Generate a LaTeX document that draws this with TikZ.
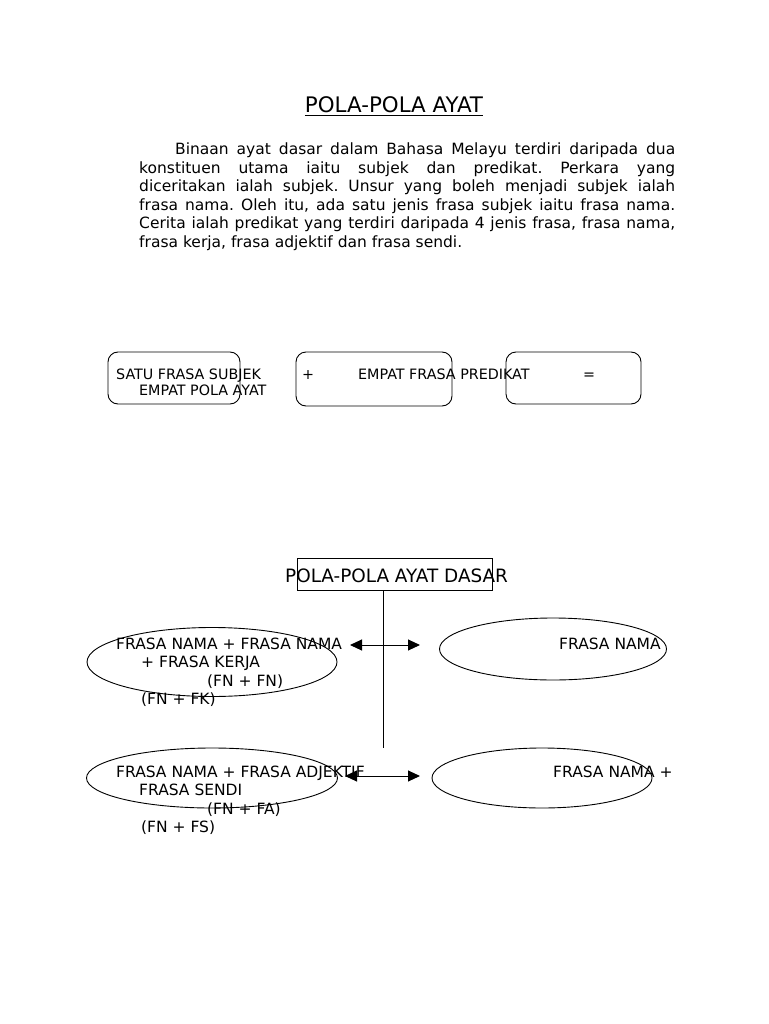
\documentclass[tikz,border=0pt]{standalone}
\usepackage{fontspec}
\setmainfont{DejaVu Sans}
\usetikzlibrary{shapes.geometric,arrows.meta}
\tikzset{
  roundbox/.style={draw, rounded corners=10pt, line width=0.9pt},
  oval/.style={draw, ellipse, line width=0.9pt},
  lbl/.style={anchor=base west, inner sep=0pt},
  dblarrow/.style={{Triangle[length=12pt,width=11pt]}-{Triangle[length=12pt,width=11pt]}, line width=1pt}
}
\newcommand\bodysize{\fontsize{15.5}{18.5}\selectfont}
\newcommand\boxsize{\fontsize{14.3}{16}\selectfont}
\newcommand\ovalsize{\fontsize{15.5}{18.5}\selectfont}
\frenchspacing
\begin{document}
\begin{tikzpicture}[x=1pt,y=-1pt]
\useasboundingbox[fill=white] (0,0) rectangle (768,1024);
% heading and paragraph
\node[anchor=base, inner sep=0pt] (title) at (394,113) {\fontsize{21.4}{25}\selectfont\underline{POLA-POLA AYAT}};
\node[anchor=north west, inner sep=0pt, text width=536pt, align=justify, font=\bodysize] (para) at (139,143) {%
\hspace*{36pt}Binaan ayat dasar dalam Bahasa Melayu terdiri daripada dua\linebreak
konstituen utama iaitu subjek dan predikat. Perkara yang\linebreak
diceritakan ialah subjek. Unsur yang boleh menjadi subjek ialah\linebreak
frasa nama. Oleh itu, ada satu jenis frasa subjek iaitu frasa nama.\linebreak
Cerita ialah predikat yang terdiri daripada 4 jenis frasa, frasa nama,\linebreak
frasa kerja, frasa adjektif dan frasa sendi.};
% three rounded boxes
\node[roundbox, minimum width=132pt, minimum height=52pt] (b1) at (174,378) {};
\node[roundbox, minimum width=156pt, minimum height=54pt] (b2) at (374,379) {};
\node[roundbox, minimum width=135pt, minimum height=52pt] (b3) at (573.5,378) {};
\node[lbl] (subjek) at (116,379) {\boxsize SATU FRASA SUBJEK};
\node[lbl] (plus) at (302,379) {\boxsize +};
\node[lbl] (predikat) at (358,379) {\boxsize EMPAT FRASA PREDIKAT};
\node[lbl] (equal) at (583,379) {\boxsize =};
\node[lbl] (empat) at (139,395) {\boxsize EMPAT POLA AYAT};
% pola-pola ayat dasar
\node[draw, line width=0.9pt, minimum width=195pt, minimum height=32pt] (dasarbox) at (394.5,574) {};
\node[lbl] (dasar) at (285,582) {\fontsize{18.4}{21}\selectfont POLA-POLA AYAT DASAR};
\coordinate (stem) at (383,748);
\draw[line width=0.9pt] (stem |- dasarbox.south) -- (stem);
% ellipses
\node[oval, minimum width=250pt, minimum height=69pt] (e1) at (212,662) {};
\node[oval, minimum width=227pt, minimum height=62pt] (e2) at (553,649) {};
\node[oval, minimum width=251pt, minimum height=60pt] (e3) at (212,778) {};
\node[oval, minimum width=220pt, minimum height=60pt] (e4) at (542,778) {};
\node[lbl] (fnfn) at (116,649) {\ovalsize FRASA NAMA + FRASA NAMA};
\node[lbl] (fk) at (141,667) {\ovalsize + FRASA KERJA};
\node[lbl] (fnfnab) at (207,686) {\ovalsize (FN + FN)};
\node[lbl] (fnfkab) at (141,704) {\ovalsize (FN + FK)};
\node[lbl] (fnright) at (559,649) {\ovalsize FRASA NAMA};
\node[lbl] (fnfa) at (116,777) {\ovalsize FRASA NAMA + FRASA ADJEKTIF};
\node[lbl] (fs) at (139,795) {\ovalsize FRASA SENDI};
\node[lbl] (fnfaab) at (207,814) {\ovalsize (FN + FA)};
\node[lbl] (fnfsab) at (141,832) {\ovalsize (FN + FS)};
\node[lbl] (fnplus) at (553,777) {\ovalsize FRASA NAMA +};
% arrows
\coordinate (a1l) at (350,645);
\coordinate (a1r) at (420,645);
\coordinate (a2l) at (345,776);
\coordinate (a2r) at (420,776);
\draw[dblarrow] (a1l) -- (a1r);
\draw[dblarrow] (a2l) -- (a2r);
\end{tikzpicture}
\end{document}
